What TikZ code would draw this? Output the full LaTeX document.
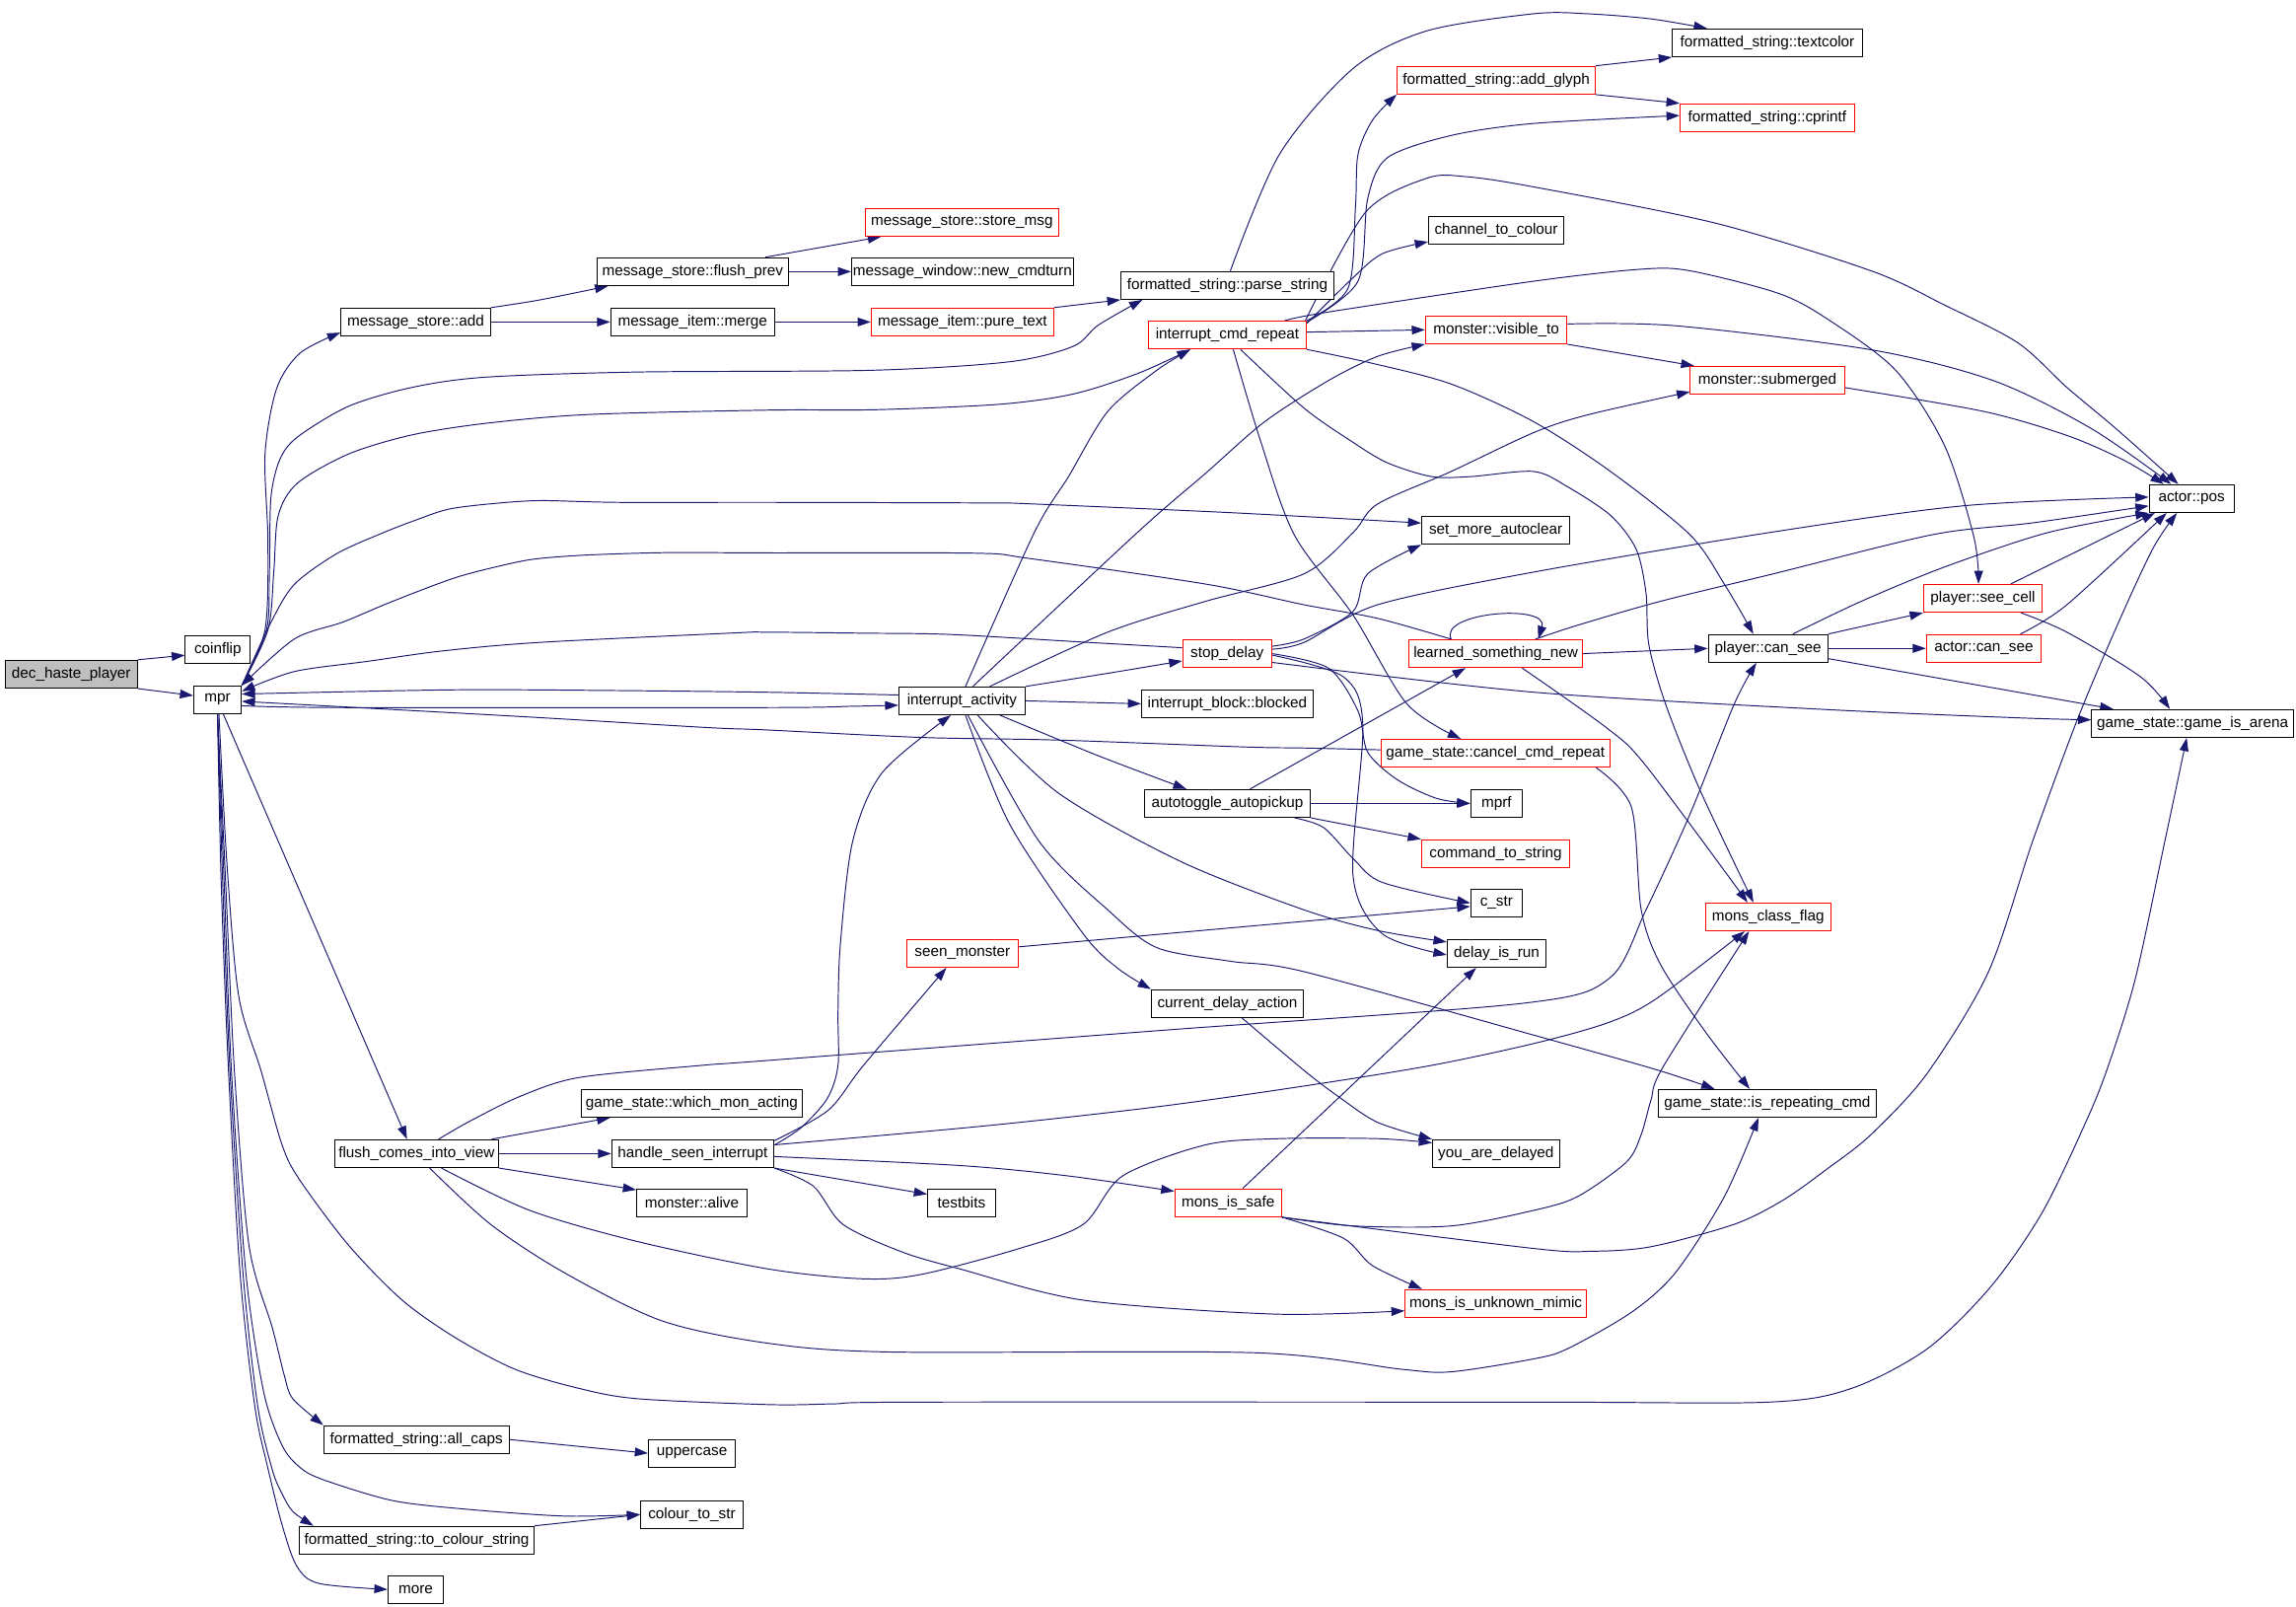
\documentclass[tikz,border=0pt]{standalone}
\usepackage{fontspec}
\setmainfont{Liberation Sans}
\usetikzlibrary{arrows.meta}
\definecolor{navy}{HTML}{191970}
\definecolor{rootgray}{HTML}{BFBFBF}
\pgfdeclarelayer{edgelayer}
\pgfsetlayers{edgelayer,main}
\tikzset{
  box/.style={draw=black, line width=0.7pt, minimum height=19pt, inner sep=0pt, anchor=center, fill=white, font=\fontsize{10.3}{12}\selectfont},
  rbox/.style={box, draw=red},
  edge/.style={draw=navy, line width=0.65pt, -{Triangle[length=9pt,width=6pt]}}
}
\begin{document}
\begin{tikzpicture}[x=1pt,y=-1pt]
\useasboundingbox (0,0) rectangle (1568,1097);

% nodes
\node[box, fill=rootgray, minimum width=90.5pt] (dhp) at (48.65,460.3) {dec\_haste\_player};
\node[box, minimum width=44.3pt] (coinflip) at (148.75,443.4) {coinflip};
\node[box, minimum width=32.5pt] (mpr) at (148.55,477.85) {mpr};
\node[box, minimum width=102.2pt] (msadd) at (283.9,219.85) {message\_store::add};
\node[box, minimum width=130.7pt] (flushprev) at (473.05,185.45) {message\_store::flush\_prev};
\node[box, minimum width=111.9pt] (merge) at (473.05,219.85) {message\_item::merge};
\node[rbox, minimum width=131.9pt] (storemsg) at (656.95,151.8) {message\_store::store\_msg};
\node[box, minimum width=151.4pt] (newcmdturn) at (657.3,185.45) {message\_window::new\_cmdturn};
\node[rbox, minimum width=124.6pt] (puretext) at (657.3,219.85) {message\_item::pure\_text};
\node[box, minimum width=145.4pt] (parsestring) at (838.2,194.85) {formatted\_string::parse\_string};
\node[rbox, minimum width=107.8pt] (icr) at (838.2,228.75) {interrupt\_cmd\_repeat};
\node[rbox, minimum width=135.4pt] (addglyph) at (1021.8,54.75) {formatted\_string::add\_glyph};
\node[box, minimum width=129.6pt] (textcolor) at (1206.9,29.25) {formatted\_string::textcolor};
\node[rbox, minimum width=119pt] (cprintf) at (1206.9,80.4) {formatted\_string::cprintf};
\node[box, minimum width=92.4pt] (channel) at (1021.8,157.2) {channel\_to\_colour};
\node[rbox, minimum width=96.6pt] (visibleto) at (1021.8,225.2) {monster::visible\_to};
\node[rbox, minimum width=105.2pt] (submerged) at (1207,259.65) {monster::submerged};
\node[box, minimum width=57.9pt] (actorpos) at (1496.65,340.4) {actor::pos};
\node[box, minimum width=101.2pt] (smac) at (1021.5,362.1) {set\_more\_autoclear};
\node[rbox, minimum width=60.6pt] (stopdelay) at (838,446.25) {stop\_delay};
\node[rbox, minimum width=118.6pt] (lsn) at (1021.5,446.25) {learned\_something\_new};
\node[box, minimum width=86.4pt] (ia) at (657,478.5) {interrupt\_activity};
\node[box, minimum width=117.2pt] (blocked) at (838.2,480.5) {interrupt\_block::blocked};
\node[rbox, minimum width=156.6pt] (cancel) at (1021.3,514.25) {game\_state::cancel\_cmd\_repeat};
\node[box, minimum width=113.2pt] (autotoggle) at (838.2,548.55) {autotoggle\_autopickup};
\node[box, minimum width=35.2pt] (mprf) at (1022,548.55) {mprf};
\node[rbox, minimum width=101.3pt] (cmdtostr) at (1021.45,582.8) {command\_to\_string};
\node[box, minimum width=35.2pt] (cstr) at (1022,616.6) {c\_str};
\node[box, minimum width=67.7pt] (delayisrun) at (1022.15,650.95) {delay\_is\_run};
\node[rbox, minimum width=76.4pt] (seenmonster) at (657.3,650.95) {seen\_monster};
\node[box, minimum width=103.8pt] (curdelay) at (838.2,685.2) {current\_delay\_action};
\node[box, minimum width=81.7pt] (pcansee) at (1207.45,442.7) {player::can\_see};
\node[rbox, minimum width=81.1pt] (seecell) at (1354.15,408.55) {player::see\_cell};
\node[rbox, minimum width=78.4pt] (acansee) at (1354.8,442.7) {actor::can\_see};
\node[box, minimum width=137.7pt] (arena) at (1497.35,493.95) {game\_state::game\_is\_arena};
\node[rbox, minimum width=85.7pt] (mcf) at (1207.45,626) {mons\_class\_flag};
\node[box, minimum width=150.8pt] (whichmon) at (472.4,753.3) {game\_state::which\_mon\_acting};
\node[box, minimum width=111.9pt] (flush) at (284.45,787.65) {flush\_comes\_into\_view};
\node[box, minimum width=110.6pt] (hsi) at (473.1,787.65) {handle\_seen\_interrupt};
\node[box, minimum width=75.4pt] (alive) at (472.5,821.2) {monster::alive};
\node[box, minimum width=46.3pt] (testbits) at (656.65,821.2) {testbits};
\node[rbox, minimum width=72.8pt] (monssafe) at (838.7,821.2) {mons\_is\_safe};
\node[box, minimum width=86.7pt] (youdelayed) at (1021.65,787.65) {you\_are\_delayed};
\node[rbox, minimum width=124pt] (mimic) at (1021.5,889.95) {mons\_is\_unknown\_mimic};
\node[box, minimum width=148.4pt] (isrepeat) at (1206.9,753.3) {game\_state::is\_repeating\_cmd};
\node[box, minimum width=126.6pt] (allcaps) at (284.4,982.85) {formatted\_string::all\_caps};
\node[box, minimum width=59.3pt] (uppercase) at (472.55,992.2) {uppercase};
\node[box, minimum width=70pt] (colourtostr) at (472.5,1034.1) {colour\_to\_str};
\node[box, minimum width=160.4pt] (tocolour) at (284.6,1051.6) {formatted\_string::to\_colour\_string};
\node[box, minimum width=37.9pt] (more) at (283.95,1085.2) {more};

\begin{pgfonlayer}{edgelayer}
\fill[white] (0,0) rectangle (1568,1097);
% ---------------- edges ----------------
\draw[edge] (dhp.north east) -- (coinflip.190);
\draw[edge] (dhp.south east) -- (mpr.170);

% mpr outgoing (upwards)
\draw[edge] plot[smooth] coordinates {(mpr.north east) (181,430) (183,370) (181,310) (189,265) (205,241) (msadd.188)};
\draw[edge] plot[smooth] coordinates {(mpr.north east) (182,430) (184,390) (185,340) (191,314) (203,298.5) (238,277.4) (281.4,264.5) (331.7,257.5) (435.5,254) (595.7,252.8) (689.5,247) (733,236.4) (750,222) ([xshift=15pt]parsestring.south west)};
\draw[edge] plot[smooth] coordinates {(mpr.north east) (183,430) (187,390) (190,352) (203,330) (238,310) (281,297) (332,289) (402,283) (525,280) (599,279.7) (683,276) (733,269) (777,255) ([xshift=29pt]icr.south west)};
\draw[edge] plot[smooth] coordinates {(mpr.north east) (185,425) (201,399) (230,378) (261,364) (285,354.7) (306.5,347.6) (335,344) (368.5,341.8) (422,343) (525,343) (673,343.4) (706,344.1) (840,350) ([yshift=5pt]smac.west)};

% into mpr
\draw[edge] plot[smooth] coordinates {([xshift=-30.5pt]lsn.north) (940.8,422.2) (890.5,412.9) (823.5,398.8) (702.9,381.3) (666,377.7) (525,377.5) (455.6,377.3) (402,378.9) (368.5,381.3) (348.4,384.8) (311.6,394.2) (268,410.6) (234.5,424.6) (201,436.3) (mpr.north east)};
\draw[edge] plot[smooth] coordinates {([yshift=4pt]stopdelay.west) (743.1,438.6) (649.3,433.2) (589,432.3) (522,431.6) (502.5,432.1) (368.5,438.6) (301.5,444.5) (251.3,451.5) (201,458.5) ([yshift=-4pt]mpr.north east)};
\draw[edge] plot[smooth] coordinates {([yshift=4pt]ia.west) (522,472.6) (412,471.4) (308.2,471) ([yshift=4pt]mpr.east)};
\draw[edge] plot[smooth] coordinates {([yshift=-4pt]mpr.east) (234.5,483.1) (525.3,483.1) (582.3,482.2) ([yshift=-3pt]ia.west)};
\draw[edge] plot[smooth] coordinates {([yshift=2.3pt]cancel.west) (890.5,510.7) (850.3,510) (723,505.3) (629.2,503.5) (522,498.3) (482.4,496.7) (351.8,489) ([yshift=-1pt]mpr.east)};

% mpr downwards
\draw[edge] ([xshift=4pt]mpr.south) -- ([xshift=-6.5pt]flush.north);
\draw[edge] plot[smooth] coordinates {([xshift=1pt]mpr.south) (155,590) (163,680) (178.2,730.8) (192.6,781.6) (204.4,805.2) (237.9,850) (274.7,887.7) (311.6,913.7) (351.8,934.9) (395.3,947.9) (435.5,955) (525.3,959) (568.9,958.5) (625.9,957.3) (1047.3,957.3) (1207.7,957.3) (1264.5,947.9) (1316.3,920.8) (1359.7,878.3) (1394.8,827.6) (1424.9,765.1) (1439.9,727.4) (1458.3,668.0) (1478.4,574.4) ([xshift=-4pt]arena.south)};
\draw[edge] plot[smooth] coordinates {(mpr.south) (154,600) (160,730) (170,850) (186,906.6) (194.3,939.6) (200,955) (allcaps.north west)};
\draw[edge] plot[smooth] coordinates {(mpr.south) (153,600) (158,730) (168,870) (180,950) (192.6,986.8) (205,1002) (221.1,1010.4) (268,1024.5) (318.3,1030.4) (385.3,1035.1) (colourtostr.west)};
\draw[edge] plot[smooth] coordinates {(mpr.south) (152,600) (157,730) (166,870) (176,960) (185.9,1003.3) (192.6,1019.8) (200,1032) ([xshift=10pt]tocolour.north west)};
\draw[edge] plot[smooth] coordinates {(mpr.south) (151,600) (156,730) (164,870) (174,960) (182.6,1000.9) (192.6,1041) (202.7,1069.3) (217.8,1081.1) (more.west)};

% flush_comes_into_view
\draw[edge] ([xshift=-5pt]flush.north east) -- ([xshift=20pt]whichmon.south west);
\draw[edge] (flush.east) -- (hsi.west);
\draw[edge] (flush.south east) -- ([yshift=-1pt]alive.north west);
\draw[edge] plot[smooth] coordinates {([xshift=15pt]flush.north) (321.6,765.1) (355.1,748.6) (395.3,735.7) (479,727.4) (522,724.2) (800,703) (1040,685) (1099,668.0) (1124.1,621.2) (1154.2,555.7) (1184.3,480.8) ([xshift=-8pt]pcansee.south)};
\draw[edge] plot[smooth] coordinates {([xshift=17pt]flush.south) (361.8,826.4) (435.5,847.7) (525.3,866.5) (589,873.1) (629.2,870.1) (696.2,852.4) (739.8,835.9) (766.6,802.9) (823.5,781.6) (873.8,777.4) (940.8,777.4) ([yshift=-2.5pt]youdelayed.north west)};
\draw[edge] plot[smooth] coordinates {([xshift=9pt]flush.south) (335,835.9) (385.3,868.9) (452.3,901.9) (525.3,917.2) (609.1,923.1) (857,923.6) (957.5,934.9) (991,936.6) (1047.3,927.8) (1070.6,920.8) (1114.1,896) (1144.2,868.9) (1177.6,817) ([xshift=-6pt]isrepeat.south)};

% handle_seen_interrupt
\draw[edge] plot[smooth] coordinates {([yshift=-4pt]hsi.north east) (547,770) (565,750) (572.3,727.4) (572.3,691.4) (573.9,644.6) (582.3,574.4) (602.4,527.6) ([xshift=-7.7pt]ia.south)};
\draw[edge] plot[smooth] coordinates {([yshift=-1pt]hsi.north east) (565.6,758) (590,727) ([xshift=-11pt]seenmonster.south)};
\draw[edge] plot[smooth] coordinates {([yshift=6pt]hsi.east) (672.8,768.7) (790,755.7) (890.5,741.5) (977.6,727.4) (1047.3,712.5) (1097.4,698.5) (1130.8,682.1) ([xshift=-16pt]mcf.south)};
\draw[edge] (hsi.south east) -- ([yshift=-4pt]testbits.north west);
\draw[edge] plot[smooth] coordinates {([yshift=-2pt]hsi.east) (656,795.8) (729.7,802.9) ([yshift=-2pt]monssafe.north west)};
\draw[edge] plot[smooth] coordinates {(hsi.south east) (555.5,809.9) (575.6,835.9) (615.8,854.7) (656,866.5) (739.8,887.7) (870.4,897.2) ([yshift=-5pt]mimic.west)};

% mons_is_safe
\draw[edge] ([xshift=10pt]monssafe.north) -- ([xshift=-14pt]delayisrun.south);
\draw[edge] plot[smooth] coordinates {(monssafe.south east) (924,837) (991,837) (1047.3,826.4) (1077.3,817) (1110.7,793.4) (1120.8,774.6) (1127.5,751) (1136,728) ([xshift=-13pt]mcf.south)};
\draw[edge] plot[smooth] coordinates {(monssafe.south east) (917.3,845.3) (937.4,864.2) ([xshift=12pt]mimic.north west)};
\draw[edge] plot[smooth] coordinates {(monssafe.south east) (1047.3,852.4) (1087.3,854.3) (1127.5,851.2) (1184.3,835.9) (1217.7,819.4) (1247.8,798.1) (1277.8,774.6) (1316,733) (1358,663.4) (1388.1,574.4) (1418.2,492.5) (1444.9,429.2) (1470,375) ([xshift=-10pt]actorpos.south)};

% current_delay_action, seen_monster
\draw[edge] plot[smooth] coordinates {([xshift=10pt]curdelay.south) (890.5,730.8) (913.9,748.6) (940.8,766.3) (youdelayed.north west)};
\draw[edge] ([yshift=4.5pt]seenmonster.east) -- ([yshift=-2.3pt]cstr.west);

% interrupt_activity
\draw[edge] plot[smooth] coordinates {(ia.north east) (756.5,459.7) ([yshift=-5pt]stopdelay.west)};
\draw[edge] (ia.east) -- (blocked.west);
\draw[edge] plot[smooth] coordinates {([xshift=26pt]ia.south) (749.8,515.9) ([xshift=-28pt]autotoggle.north)};
\draw[edge] plot[smooth] coordinates {([xshift=10.7pt]ia.south) (723,541.6) (806.8,588.4) (890.5,621.2) (940.8,635.3) ([yshift=-2pt]delayisrun.north west)};
\draw[edge] plot[smooth] coordinates {([xshift=2.4pt]ia.south) (689.5,562.7) (739.8,637.6) (763.2,661) (curdelay.north west)};
\draw[edge] plot[smooth] coordinates {([xshift=4pt]ia.south) (709.6,574.4) (756.5,621.2) (790,647) (840.3,656.3) (890.5,663.4) (1047.3,706.7) (1130,730) ([xshift=-36pt]isrepeat.north)};
\draw[edge] plot[smooth] coordinates {([xshift=2.4pt]ia.north) (706.3,363.7) (729.7,325.4) (756.5,280.9) (790,252.8) ([xshift=29pt]icr.south west)};
\draw[edge] plot[smooth] coordinates {([xshift=7.4pt]ia.north) (776.6,363.7) (823.5,323) (863.7,287.9) (907.3,259.8) (940.8,243.3) (visibleto.south west)};
\draw[edge] plot[smooth] coordinates {([xshift=19pt]ia.north) (756.5,431.6) (823.5,410.5) (890.5,391.8) (924,363.7) (940.8,344.1) (991,321.9) (1047.3,295.4) (1084,283.3) ([yshift=2pt]submerged.south west)};

% stop_delay
\draw[edge] plot[smooth] coordinates {([yshift=5pt]stopdelay.east) (890.5,436.3) (924,417.5) (934,391.8) (smac.south west)};
\draw[edge] plot[smooth] coordinates {([yshift=3pt]stopdelay.east) (890.5,438.6) (940.8,412.9) (1047.3,390.6) (1207.7,363.7) (1341.3,345.3) ([yshift=1pt]actorpos.west)};
\draw[edge] plot[smooth] coordinates {(stopdelay.east) (907.3,456.2) (927.4,485.4) (934,513.5) (954.2,532.3) (981,545.1) (mprf.west)};
\draw[edge] plot[smooth] coordinates {([yshift=-1pt]stopdelay.east) (917.3,462) (930.7,494.8) (924,597.8) (944.1,637.6) ([yshift=-1pt]delayisrun.west)};
\draw[edge] plot[smooth] coordinates {([yshift=-6pt]stopdelay.east) (1047.3,472.6) (1244.4,484.3) (1378.1,490.1) ([yshift=2.5pt]arena.west)};

% autotoggle_autopickup
\draw[edge] ([xshift=15.5pt]autotoggle.north) -- ([xshift=39pt]lsn.south west);
\draw[edge] (autotoggle.east) -- (mprf.west);
\draw[edge] (autotoggle.south east) -- (cmdtostr.north west);
\draw[edge] plot[smooth] coordinates {([xshift=-11pt]autotoggle.south east) (903.9,565.0) (924,586.1) (944.1,602.5) (cstr.west)};

% learned_something_new
\draw[edge] ([xshift=-30.5pt]lsn.north) .. controls (982,418) and (1058,412) .. ([xshift=29pt]lsn.north);
\draw[edge] (lsn.east) -- (pcansee.west);
\draw[edge] plot[smooth] coordinates {([xshift=27pt]lsn.north) (1077.3,426.9) (1134.1,410.5) (1211,391.8) (1320,365) (1388.1,357) ([yshift=-5pt]actorpos.west)};
\draw[edge] plot[smooth] coordinates {([xshift=18pt]lsn.south) (1097.4,497.1) (1124.1,522.9) ([xshift=-14pt]mcf.north)};

% cancel_cmd_repeat
\draw[edge] plot[smooth] coordinates {([xshift=-10pt]cancel.south east) (1114.1,551) (1120.8,621.2) (1134.1,658.7) (1165,705) ([xshift=-12pt]isrepeat.north)};

% player::can_see etc.
\draw[edge] plot[smooth] coordinates {([xshift=17pt]pcansee.north) (1271.2,410.5) (1328,387.1) (1398.2,363.7) (actorpos.south west)};
\draw[edge] (pcansee.north east) -- (seecell.south west);
\draw[edge] (pcansee.east) -- (acansee.west);
\draw[edge] plot[smooth] coordinates {([yshift=-7pt]pcansee.east) (1344.7,466.7) ([xshift=15pt]arena.north west)};
\draw[edge] ([xshift=19pt]seecell.north) -- ([xshift=-25pt]actorpos.south);
\draw[edge] plot[smooth] coordinates {([xshift=26pt]seecell.south) (1411.5,431.6) (1461.7,462) ([xshift=-15.5pt]arena.north)};
\draw[edge] plot[smooth] coordinates {([xshift=25pt]acansee.north) (1411.5,412.9) ([xshift=-17pt]actorpos.south)};

% monsters
\draw[edge] plot[smooth] coordinates {([yshift=-5pt]submerged.east) (1354.7,280.9) (1411.5,297.3) (1450,314) ([xshift=-19pt]actorpos.north)};
\draw[edge] plot[smooth] coordinates {([yshift=4pt]visibleto.east) (1144.2,222.4) (1277.8,238.8) (1361.4,259.9) (1428.2,292.6) ([xshift=-14pt]actorpos.north)};
\draw[edge] (visibleto.south east) -- ([xshift=3pt]submerged.north west);

% interrupt_cmd_repeat
\draw[edge] plot[smooth] coordinates {([xshift=-1pt]icr.north east) (932.4,145.1) (974.3,121.7) (1001,120.6) (1047.3,127.6) (1170.9,152.2) (1277.8,184.9) (1328,208.3) (1378.1,234.1) (1411.5,264.5) (1445,292.6) ([xshift=-9pt]actorpos.north)};
\draw[edge] plot[smooth] coordinates {(icr.north east) (920.7,196.6) (925.7,140.5) (927.4,105.3) (937.4,81.9) (addglyph.south west)};
\draw[edge] plot[smooth] coordinates {([yshift=-1pt]icr.north east) (927.4,192) (934,135.8) (947.5,107.7) (991,92.5) (1047.3,84.3) ([yshift=1.5pt]cprintf.west)};
\draw[edge] plot[smooth] coordinates {([yshift=-2pt]icr.north east) (924,189.6) (944.1,173.2) ([yshift=2pt]channel.south west)};
\draw[edge] plot[smooth] coordinates {([xshift=-15pt]icr.north east) (907.3,213) (1047.3,192) (1120.8,183.8) (1154.2,184.9) (1214.3,200.2) (1247.8,217.7) (1294.6,252.8) (1328,304.3) (1348.1,367.1) ([xshift=-3pt]seecell.north)};
\draw[edge] ([yshift=2pt]icr.east) -- (visibleto.west);
\draw[edge] plot[smooth] coordinates {(icr.south east) (937.4,248.1) (991,262.2) (1047.3,287.9) (1100,322) (1154,365) (1177.6,398.8) ([xshift=-10pt]pcansee.north)};
\draw[edge] plot[smooth] coordinates {([xshift=4pt]icr.south) (860.4,299.6) (883.8,365) (924,419.9) (960.9,480.7) ([xshift=55pt]cancel.north west)};
\draw[edge] plot[smooth] coordinates {([xshift=9pt]icr.south) (890.5,278.6) (924,302) (947.5,316) (977.6,325.4) (1004.4,325.4) (1047.3,321.9) (1070.6,332.4) (1100,352) (1117.4,375) (1124.1,405) (1126,440) (1137.5,480.8) (1160.9,539.3) ([xshift=-10pt]mcf.north)};

% formatted_string / message
\draw[edge] plot[smooth] coordinates {([xshift=2pt]parsestring.north) (873.8,105.3) (924,46.8) (974.3,21.1) (1047.3,9.4) (1084,9.4) (1127.5,12.9) ([xshift=24pt]textcolor.north west)};
\draw[edge] (addglyph.north east) -- (textcolor.south west);
\draw[edge] (addglyph.south east) -- (cprintf.north west);
\draw[edge] plot[smooth] coordinates {(msadd.north east) (368.5,204.8) ([xshift=8pt]flushprev.south west)};
\draw[edge] (msadd.east) -- (merge.west);
\draw[edge] ([xshift=-16pt]flushprev.north east) -- ([xshift=11pt]storemsg.south west);
\draw[edge] (flushprev.east) -- (newcmdturn.west);
\draw[edge] (merge.east) -- (puretext.west);
\draw[edge] (puretext.north east) -- (parsestring.south west);
\draw[edge] (allcaps.east) -- (uppercase.west);
\draw[edge] (tocolour.north east) -- (colourtostr.west);
\end{pgfonlayer}
\end{tikzpicture}
\end{document}
